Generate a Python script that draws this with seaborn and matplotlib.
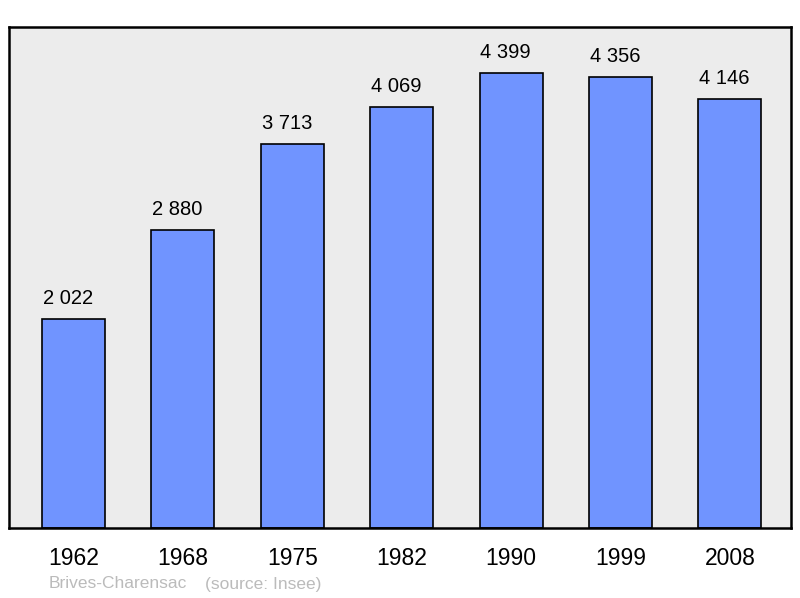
import matplotlib
matplotlib.use("Agg")
from matplotlib import pyplot as plt
import seaborn as sns
import pandas as pd

# Données de population
annees = ["1962", "1968", "1975", "1982", "1990", "1999", "2008"]
population = [2022, 2880, 3713, 4069, 4399, 4356, 4146]
etiquettes = ["2 022", "2 880", "3 713", "4 069", "4 399", "4 356", "4 146"]

df = pd.DataFrame({"annee": annees, "population": population})

sns.set_style("white")
plt.rcParams["font.family"] = ["Liberation Sans", "DejaVu Sans"]

fig = plt.figure(figsize=(8, 5.98), dpi=100)
ax = fig.add_axes([0.011, 0.117, 0.978, 0.838])
ax.set_facecolor("#ececec")

sns.barplot(data=df, x="annee", y="population", color="#7094ff",
            saturation=1, width=0.575, edgecolor="black", linewidth=1.2, ax=ax)

for i, (v, lab) in enumerate(zip(population, etiquettes)):
    ax.text(i - 0.05, v + 110, lab, ha="center", va="bottom", fontsize=14.5,
            color="black")

ax.set_xlim(-0.59, 6.56)
ax.set_ylim(0, 4845)
ax.set_yticks([])
ax.set_xlabel("")
ax.set_ylabel("")
ax.tick_params(axis="x", length=0, labelsize=16.5, pad=14, colors="black")
for s in ax.spines.values():
    s.set_color("black")
    s.set_linewidth(1.8)

fig.text(49 / 800, 1 - 584 / 598, "Brives-Charensac", fontsize=12.5,
         color="#bbbbbb", va="center", ha="left")
fig.text(205 / 800, 1 - 584 / 598, "(source: Insee)", fontsize=12.5,
         color="#bbbbbb", va="center", ha="left")

fig.savefig("out.png", dpi=100)
